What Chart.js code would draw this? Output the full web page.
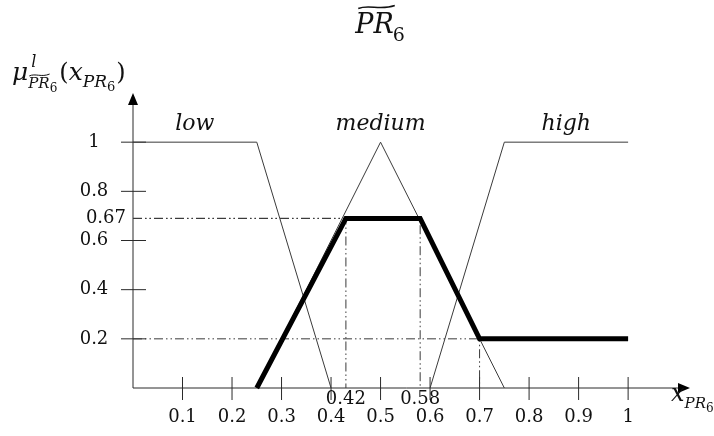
<!DOCTYPE html>
<html>
<head>
<meta charset="utf-8">
<script src="https://cdn.jsdelivr.net/npm/chart.js@4.4.0/dist/chart.umd.min.js"></script>
<style>
  html, body { margin: 0; padding: 0; background: #fff; }
  .chart-container { position: relative; width: 714px; height: 436px; }
</style>
</head>
<body>
<div class="chart-container">
  <canvas id="fuzzyChart"></canvas>
</div>
<script>
// tick values on the two axes
const xTicks = [0.1, 0.2, 0.3, 0.4, 0.5, 0.6, 0.7, 0.8, 0.9, 1];
const yTicks = [0.2, 0.4, 0.6, 0.8, 1];

// membership functions (x / mu pairs)
const termNames = ['low', 'medium', 'high'];
const lowX = [0, 0.25, 0.4];
const lowY = [1, 1, 0];
const medX = [0.25, 0.5, 0.75];
const medY = [0, 1, 0];
const highX = [0.6, 0.75, 1];
const highY = [0, 1, 1];

// aggregated (clipped) output, as drawn in the figure
const aggX = [0.25, 0.43, 0.58, 0.7, 1];
const aggY = [0, 0.69, 0.69, 0.2, 0.2];

// cut points marked with dash-dot guides and their labels
const cutX = [0.43, 0.58, 0.7];
const cutY = [0.69, 0.69, 0.2];
const cutXLabels = ['0.42', '0.58', null];
const cutYLabel = '0.67';

const pts = (xs, ys) => xs.map((x, i) => ({ x: x, y: ys[i] }));

const thin = { showLine: true, borderColor: '#3a3a3a', borderWidth: 1, pointRadius: 0, clip: false };
const guideSets = cutX.map((cx, i) => ({
  data: [{ x: 0, y: cutY[i] }, { x: cx, y: cutY[i] }, { x: cx, y: 0 }],
  showLine: true, borderColor: '#3a3a3a', borderWidth: 1, borderDash: [9, 3, 1.5, 3, 1.5, 3],
  pointRadius: 0, clip: false
}));

const SERIF = '"DejaVu Serif", "Liberation Serif", serif';

function tilde(ctx, x1, x2, y, amp) {
  const w = x2 - x1;
  ctx.beginPath();
  ctx.moveTo(x1, y + amp * 0.6);
  ctx.bezierCurveTo(x1 + w * 0.3, y - amp * 1.2, x1 + w * 0.6, y + amp * 1.6, x2, y - amp * 0.6);
  ctx.stroke();
}

function run(ctx, x, y, text, font) {
  ctx.font = font;
  ctx.fillText(text, x, y);
  return x + ctx.measureText(text).width;
}

const axesPlugin = {
  id: 'fuzzyAxes',
  beforeDatasetsDraw(chart) {
    const ctx = chart.ctx;
    const xs = chart.scales.x, ys = chart.scales.y;
    const x0 = xs.getPixelForValue(0), y0 = ys.getPixelForValue(0);
    const xEnd = chart.chartArea.right, yTop = chart.chartArea.top;
    ctx.save();
    ctx.strokeStyle = '#2a2a2a';
    ctx.fillStyle = '#000';
    ctx.lineWidth = 1;
    ctx.beginPath();
    ctx.moveTo(x0, y0); ctx.lineTo(x0, yTop + 10);
    ctx.moveTo(x0, y0); ctx.lineTo(xEnd - 10, y0);
    xTicks.forEach(v => {
      const px = xs.getPixelForValue(v);
      ctx.moveTo(px, y0 - 11); ctx.lineTo(px, y0 + 12);
    });
    yTicks.forEach(v => {
      const py = ys.getPixelForValue(v);
      ctx.moveTo(x0 - 12, py); ctx.lineTo(x0 + 13, py);
    });
    ctx.stroke();
    // arrow heads
    ctx.beginPath();
    ctx.moveTo(x0, yTop); ctx.lineTo(x0 - 5, yTop + 12); ctx.lineTo(x0 + 5, yTop + 12); ctx.closePath();
    ctx.moveTo(xEnd, y0); ctx.lineTo(xEnd - 12, y0 - 5); ctx.lineTo(xEnd - 12, y0 + 5); ctx.closePath();
    ctx.fill();
    ctx.restore();
  },
  afterDraw(chart) {
    const ctx = chart.ctx;
    const xs = chart.scales.x, ys = chart.scales.y;
    const x0 = xs.getPixelForValue(0), y0 = ys.getPixelForValue(0);
    ctx.save();
    ctx.fillStyle = '#111';
    ctx.strokeStyle = '#111';
    ctx.textBaseline = 'alphabetic';

    // x tick labels
    ctx.font = '18px ' + SERIF;
    ctx.textAlign = 'center';
    xTicks.forEach(v => ctx.fillText(String(v), xs.getPixelForValue(v), y0 + 34));
    cutXLabels.forEach((t, i) => { if (t) ctx.fillText(t, xs.getPixelForValue(cutX[i]), y0 + 16); });

    // y tick labels
    ctx.textBaseline = 'middle';
    yTicks.forEach(v => ctx.fillText(String(v), x0 - 39, ys.getPixelForValue(v)));
    ctx.textAlign = 'right';
    ctx.fillText(cutYLabel, x0 - 7, ys.getPixelForValue(cutY[0]));

    // term names over their peaks / plateaus
    ctx.textAlign = 'center';
    ctx.textBaseline = 'alphabetic';
    ctx.font = 'italic 22px ' + SERIF;
    const termCentre = [(lowX[0] + lowX[1]) / 2, medX[1], (highX[1] + highX[2]) / 2];
    termNames.forEach((t, i) => ctx.fillText(t, xs.getPixelForValue(termCentre[i]), ys.getPixelForValue(1) - 12));

    // title  ~PR_6
    ctx.textAlign = 'left';
    ctx.lineWidth = 1.5;
    const tFont = 'italic 27px ' + SERIF, sFont = '19px ' + SERIF;
    ctx.font = tFont; const wPR = ctx.measureText('PR').width;
    ctx.font = sFont; const w6 = ctx.measureText('6').width;
    const tx = xs.getPixelForValue(0.5) - (wPR + w6) / 2;
    const after = run(ctx, tx, 33, 'PR', tFont);
    tilde(ctx, tx + 3, after + 1, 7, 2.5);
    run(ctx, after - 1, 41, '6', sFont);

    // y axis label  mu^l_{~PR_6}(x_{PR_6})
    let x = run(ctx, 12, 80, 'μ', 'italic 25px ' + SERIF);
    run(ctx, x + 3, 67, 'l', 'italic 16px ' + SERIF);
    const subStart = x;
    let sx = run(ctx, subStart, 88, 'PR', 'italic 15px ' + SERIF);
    ctx.lineWidth = 1;
    tilde(ctx, subStart + 1, sx, 75, 1.6);
    sx = run(ctx, sx, 92, '6', '12px ' + SERIF);
    x = run(ctx, sx + 2, 80, '(', '24px ' + SERIF);
    x = run(ctx, x, 80, 'x', 'italic 25px ' + SERIF);
    x = run(ctx, x, 87, 'PR', 'italic 17px ' + SERIF);
    x = run(ctx, x, 91, '6', '13px ' + SERIF);
    run(ctx, x + 1, 80, ')', '24px ' + SERIF);

    // x axis label  x_{PR_6}
    x = run(ctx, 671, 401, 'x', 'italic 24px ' + SERIF);
    x = run(ctx, x, 408, 'PR', 'italic 15px ' + SERIF);
    run(ctx, x, 412, '6', '12px ' + SERIF);
    ctx.restore();
  }
};

new Chart('fuzzyChart', {
  type: 'scatter',
  data: {
    datasets: [
      // first dataset is painted last, so the thick output line sits on top
      { label: 'output', data: pts(aggX, aggY), showLine: true, borderColor: '#000', borderWidth: 5,
        pointRadius: 0, clip: false, borderJoinStyle: 'miter', borderCapStyle: 'butt' },
      Object.assign({ label: 'low', data: pts(lowX, lowY) }, thin),
      Object.assign({ label: 'medium', data: pts(medX, medY) }, thin),
      Object.assign({ label: 'high', data: pts(highX, highY) }, thin),
      ...guideSets
    ]
  },
  options: {
    responsive: true,
    maintainAspectRatio: false,
    animation: false,
    events: [],
    layout: { padding: { left: 133, right: 24, top: 93, bottom: 48 } },
    plugins: { legend: { display: false }, tooltip: { enabled: false } },
    scales: {
      x: { type: 'linear', min: 0, max: 1.125, display: false },
      y: { type: 'linear', min: 0, max: 1.2, display: false }
    }
  },
  plugins: [axesPlugin]
});
</script>
</body>
</html>
